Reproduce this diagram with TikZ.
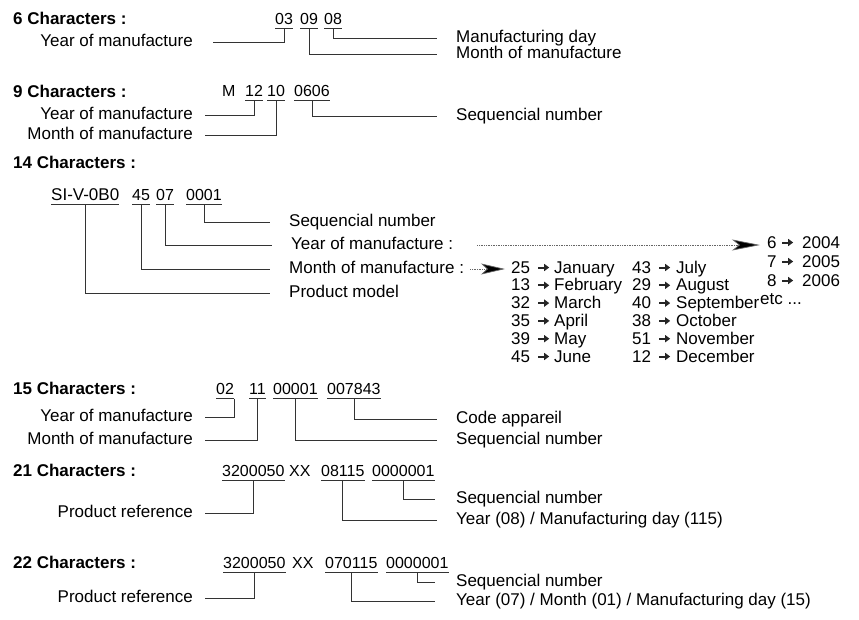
\documentclass[tikz,border=0pt]{standalone}
\usepackage{fontspec}
\setmainfont{Liberation Sans}
\usetikzlibrary{arrows.meta}
\newcommand\harr{\tikz[baseline=0pt]{\draw[line width=2pt,black!85,-{Triangle[length=5pt,width=7pt]}] (0pt,5.5pt) -- (11pt,5.5pt);}}
\begin{document}
\begin{tikzpicture}[x=1pt,y=-1pt,
  head/.style={font=\bfseries\fontsize{17}{20}\selectfont, inner sep=0pt, anchor=base west},
  code/.style={font=\fontsize{16}{19}\selectfont, inner sep=0pt, anchor=base west},
  lab/.style={font=\fontsize{17}{20}\selectfont, inner sep=0pt, text height=9pt, text depth=0pt},
  txt/.style={font=\fontsize{17}{20}\selectfont, inner sep=0pt, anchor=base west},
  conn/.style={line width=0.8pt, draw=black!80},
  dotarrow/.style={densely dotted, line width=0.7pt, draw=black!60, -{Stealth[length=28pt,width=11pt,inset=7pt,fill=black]}},
  dotarrowb/.style={densely dotted, line width=0.7pt, draw=black!60, -{Stealth[length=24pt,width=11pt,inset=6pt,fill=black]}}]
\useasboundingbox (0,0) rectangle (859,619);
\newcommand\undl[1]{\draw[conn] ([yshift=-4.5pt]#1.base west) -- ([yshift=-4.5pt]#1.base east);}

% ---------- 6 characters
\node[head] (h6) at (13,24) {6 Characters :};
\node[code] (s1a) at (275,24) {03};
\node[code] (s1b) at (300,24) {09};
\node[code] (s1c) at (324,24) {08};
\undl{s1a}\undl{s1b}\undl{s1c}
\node[lab, anchor=east] (l1y) at (193,42) {Year of manufacture};
\node[lab, anchor=west] (l1d) at (456,38) {Manufacturing day};
\node[lab, anchor=west] (l1m) at (456,54) {Month of manufacture};
\draw[conn] ([yshift=-4.5pt]s1a.base) |- ([xshift=20pt]l1y.east);
\draw[conn] ([yshift=-4.5pt]s1c.base) |- ([xshift=-19pt]l1d.west);
\draw[conn] ([yshift=-4.5pt]s1b.base) |- ([xshift=-19pt]l1m.west);

% ---------- 9 characters
\node[head] (h9) at (13,97) {9 Characters :};
\node[code] (s2a) at (222,96) {M};
\node[code] (s2b) at (245,96) {12};
\node[code] (s2c) at (267,96) {10};
\node[code] (s2d) at (294,96) {0606};
\undl{s2b}\undl{s2c}\undl{s2d}
\node[lab, anchor=east] (l2y) at (193,115) {Year of manufacture};
\node[lab, anchor=east] (l2m) at (193,135) {Month of manufacture};
\node[lab, anchor=west] (l2s) at (456,116) {Sequencial number};
\draw[conn] ([yshift=-4.5pt]s2b.base) |- ([xshift=12pt]l2y.east);
\draw[conn] ([yshift=-4.5pt]s2c.base) |- ([xshift=12pt]l2m.east);
\draw[conn] ([yshift=-4.5pt]s2d.base) |- ([xshift=-19pt]l2s.west);

% ---------- 14 characters
\node[head] (h14) at (13,168) {14 Characters :};
\node[code, font=\fontsize{17}{20}\selectfont] (s3a) at (51,200) {SI-V-0B0};
\node[code] (s3b) at (132,200) {45};
\node[code] (s3c) at (156,200) {07};
\node[code] (s3d) at (186,200) {0001};
\undl{s3a}\undl{s3b}\undl{s3c}\undl{s3d}
\node[lab, anchor=west] (l3s) at (289,222) {Sequencial number};
\node[lab, anchor=west] (l3y) at (291,245) {Year of manufacture :};
\node[lab, anchor=west] (l3m) at (289,269) {Month of manufacture :};
\node[lab, anchor=west] (l3p) at (289,293) {Product model};
\draw[conn] ([yshift=-4.5pt]s3d.base) |- ([xshift=-19pt]l3s.west);
\draw[conn] ([yshift=-4.5pt]s3c.base) |- ([xshift=-19pt]l3y.west);
\draw[conn] ([yshift=-4.5pt]s3b.base) |- ([xshift=-19pt]l3m.west);
\draw[conn] ([yshift=-4.5pt]s3a.base) |- ([xshift=-19pt]l3p.west);

% years column
\node[txt] (ya1) at (767,248) {6};
\node[txt] (yb1) at (781,248) {\harr};
\node[txt] (yc1) at (802,248) {2004};
\node[txt] (ya2) at (767,267) {7};
\node[txt] (yb2) at (781,267) {\harr};
\node[txt] (yc2) at (802,267) {2005};
\node[txt] (ya3) at (767,286) {8};
\node[txt] (yb3) at (781,286) {\harr};
\node[txt] (yc3) at (802,286) {2006};
\node[txt] (etc) at (760,304) {etc ...};

% months table
\foreach \na/\ma/\nb/\mb [count=\i] in {25/January/43/July,13/February/29/August,32/March/40/September,35/April/38/October,39/May/51/November,45/June/12/December}{
  \pgfmathsetmacro\yy{273+17.8*(\i-1)}
  \node[txt] (mna\i) at (511,\yy) {\na};
  \node[txt] (mra\i) at (537,\yy) {\harr};
  \node[txt] (mma\i) at (554,\yy) {\ma};
  \node[txt] (mnb\i) at (632,\yy) {\nb};
  \node[txt] (mrb\i) at (658,\yy) {\harr};
  \node[txt] (mmb\i) at (676,\yy) {\mb};
}
\coordinate (t1) at (l3y.east -| ya1.west);
\draw[dotarrow] ([xshift=24pt]l3y.east) -- ([xshift=-7pt]t1);
\coordinate (t2) at (l3m.east -| mna1.west);
\draw[dotarrowb] ([xshift=6pt]l3m.east) -- ([xshift=-6pt]t2);

% ---------- 15 characters
\node[head] (h15) at (13,394) {15 Characters :};
\node[code] (s4a) at (216,394) {02};
\node[code] (s4b) at (249,394) {11};
\node[code] (s4c) at (273,394) {00001};
\node[code] (s4d) at (327,394) {007843};
\undl{s4a}\undl{s4b}\undl{s4c}\undl{s4d}
\node[lab, anchor=east] (l4y) at (193,417) {Year of manufacture};
\node[lab, anchor=east] (l4m) at (193,440) {Month of manufacture};
\node[lab, anchor=west] (l4c) at (456,419) {Code appareil};
\node[lab, anchor=west] (l4s) at (456,440) {Sequencial number};
\draw[conn] ([yshift=-4.5pt]s4a.base east) |- ([xshift=12pt]l4y.east);
\draw[conn] ([yshift=-4.5pt]s4b.base) |- ([xshift=12pt]l4m.east);
\draw[conn] ([yshift=-4.5pt]s4d.base) |- ([xshift=-19pt]l4c.west);
\draw[conn] ([yshift=-4.5pt]s4c.base) |- ([xshift=-19pt]l4s.west);

% ---------- 21 characters
\node[head] (h21) at (13,476) {21 Characters :};
\node[code] (s5a) at (222,476) {3200050};
\node[code] (s5b) at (289,476) {XX};
\node[code] (s5c) at (321,476) {08115};
\node[code] (s5d) at (372,476) {0000001};
\undl{s5a}\undl{s5c}\undl{s5d}
\node[lab, anchor=east] (l5p) at (193,513) {Product reference};
\node[lab, anchor=west] (l5s) at (456,499) {Sequencial number};
\node[lab, anchor=west] (l5y) at (456,520) {Year (08) / Manufacturing day (115)};
\draw[conn] ([yshift=-4.5pt]s5a.base) |- ([xshift=12pt]l5p.east);
\draw[conn] ([yshift=-4.5pt]s5d.base) |- ([xshift=-21pt]l5s.west);
\draw[conn] ([yshift=-4.5pt]s5c.base) |- ([xshift=-19pt]l5y.west);

% ---------- 22 characters
\node[head] (h22) at (13,568) {22 Characters :};
\node[code] (s6a) at (223,568) {3200050};
\node[code] (s6b) at (292,568) {XX};
\node[code] (s6c) at (325,568) {070115};
\node[code] (s6d) at (386,568) {0000001};
\undl{s6a}\undl{s6c}\undl{s6d}
\node[lab, anchor=east] (l6p) at (193,598) {Product reference};
\node[lab, anchor=west] (l6s) at (456,582) {Sequencial number};
\node[lab, anchor=west] (l6y) at (456,601) {Year (07) / Month (01) / Manufacturing day (15)};
\draw[conn] ([yshift=-4.5pt]s6a.base) |- ([xshift=12pt]l6p.east);
\draw[conn] ([yshift=-4.5pt]s6d.base) |- ([xshift=-21pt]l6s.west);
\draw[conn] ([yshift=-4.5pt]s6c.base) |- ([xshift=-21pt]l6y.west);
\end{tikzpicture}
\end{document}
